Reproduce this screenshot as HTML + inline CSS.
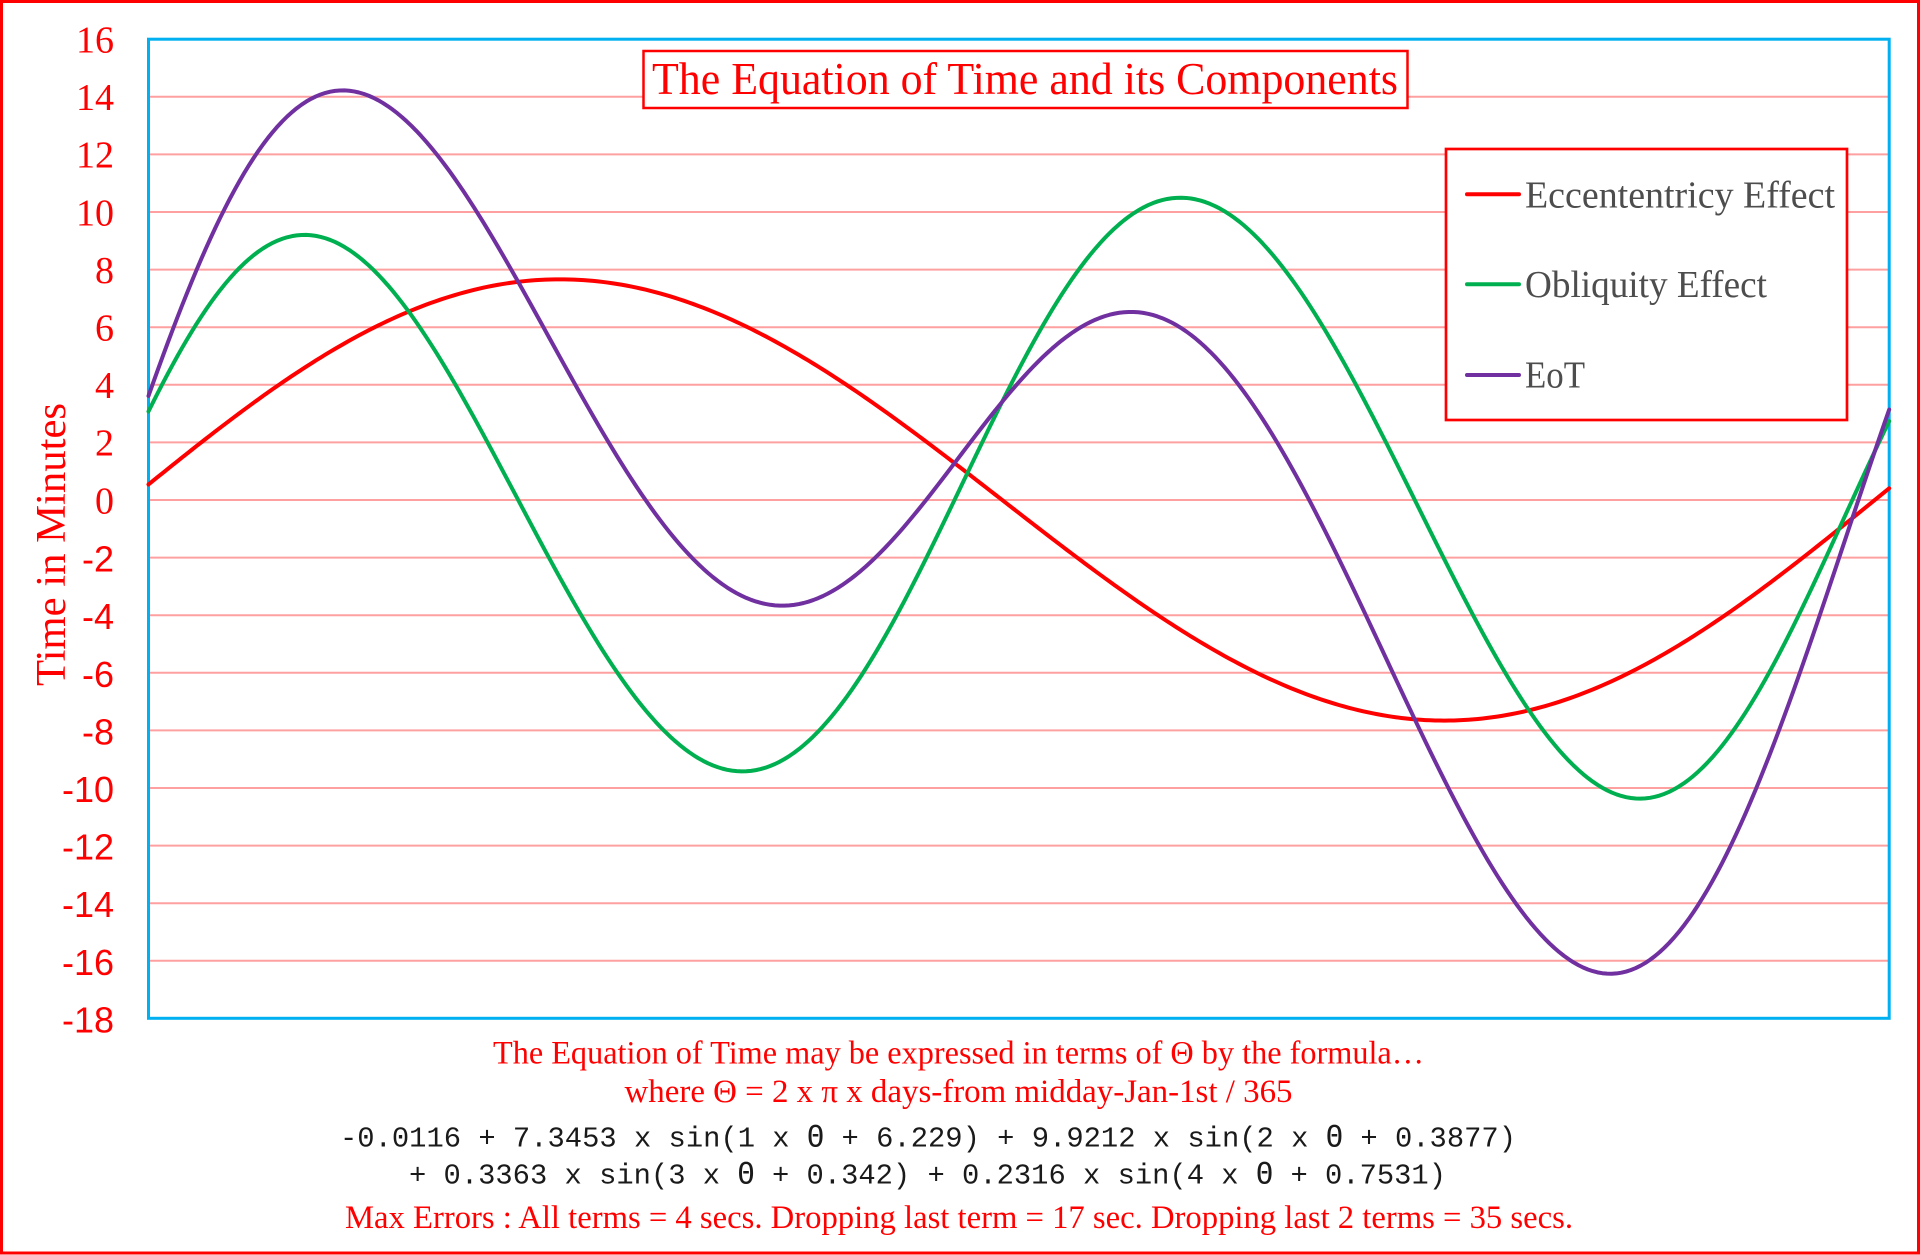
<!DOCTYPE html>
<html>
<head>
<meta charset="utf-8">
<style>
  html,body{margin:0;padding:0;background:#fff;}
  svg{display:block;}
  .serif{font-family:"Liberation Serif","DejaVu Serif",serif;}
  .sans{font-family:"Liberation Sans","DejaVu Sans",sans-serif;}
  .mono{font-family:"Liberation Mono","DejaVu Sans Mono",monospace;}
  .th{font-family:"DejaVu Sans Mono","Liberation Mono",monospace;}
</style>
</head>
<body>
<svg id="chart" width="1920" height="1255" viewBox="0 0 1920 1255" xmlns="http://www.w3.org/2000/svg">
  <rect x="0" y="0" width="1920" height="1255" fill="#ffffff"/>
  <!-- outer border -->
  <rect x="1.5" y="1.5" width="1917" height="1251.5" fill="none" stroke="#ff0000" stroke-width="3"/>

  <!-- gridlines -->
  <g stroke="#ffa0a0" stroke-width="2">
    <line x1="150" y1="96.8" x2="1888" y2="96.8"/>
    <line x1="150" y1="154.4" x2="1888" y2="154.4"/>
    <line x1="150" y1="212.0" x2="1888" y2="212.0"/>
    <line x1="150" y1="269.6" x2="1888" y2="269.6"/>
    <line x1="150" y1="327.2" x2="1888" y2="327.2"/>
    <line x1="150" y1="384.8" x2="1888" y2="384.8"/>
    <line x1="150" y1="442.4" x2="1888" y2="442.4"/>
    <line x1="150" y1="500.0" x2="1888" y2="500.0"/>
    <line x1="150" y1="557.6" x2="1888" y2="557.6"/>
    <line x1="150" y1="615.2" x2="1888" y2="615.2"/>
    <line x1="150" y1="672.8" x2="1888" y2="672.8"/>
    <line x1="150" y1="730.4" x2="1888" y2="730.4"/>
    <line x1="150" y1="788.0" x2="1888" y2="788.0"/>
    <line x1="150" y1="845.6" x2="1888" y2="845.6"/>
    <line x1="150" y1="903.2" x2="1888" y2="903.2"/>
    <line x1="150" y1="960.8" x2="1888" y2="960.8"/>
  </g>

  <!-- plot area border -->
  <rect x="148.5" y="39.2" width="1740.7" height="979.1" fill="none" stroke="#00b0f0" stroke-width="3"/>

  <!-- y tick labels: positive (serif) -->
  <g class="serif" fill="#ff0000" font-size="38" text-anchor="end">
    <text x="114" y="52.5">16</text>
    <text x="114" y="110.1">14</text>
    <text x="114" y="167.7">12</text>
    <text x="114" y="225.3">10</text>
    <text x="114" y="282.9">8</text>
    <text x="114" y="340.5">6</text>
    <text x="114" y="398.1">4</text>
    <text x="114" y="455.7">2</text>
    <text x="114" y="513.3">0</text>
  </g>
  <!-- y tick labels: negative (sans) -->
  <g class="sans" fill="#ff0000" font-size="36" text-anchor="end">
    <text x="114" y="571.6">-2</text>
    <text x="114" y="629.2">-4</text>
    <text x="114" y="686.8">-6</text>
    <text x="114" y="744.4">-8</text>
    <text x="114" y="802.0">-10</text>
    <text x="114" y="859.6">-12</text>
    <text x="114" y="917.2">-14</text>
    <text x="114" y="974.8">-16</text>
    <text x="114" y="1032.4">-18</text>
  </g>

  <!-- y axis title -->
  <text class="serif" fill="#ff0000" font-size="42" transform="translate(65,686) rotate(-90)" x="0" y="0" textLength="283" lengthAdjust="spacingAndGlyphs">Time in Minutes</text>

  <!-- series -->
  <path id="pRed" d="" fill="none" stroke="#ff0000" stroke-width="4" stroke-linejoin="round" stroke-linecap="round"/>
  <path id="pGreen" d="" fill="none" stroke="#00b050" stroke-width="4" stroke-linejoin="round" stroke-linecap="round"/>
  <path id="pPurple" d="" fill="none" stroke="#7030a0" stroke-width="4" stroke-linejoin="round" stroke-linecap="round"/>

  <!-- title -->
  <rect x="643.5" y="51" width="764" height="57" fill="#ffffff" stroke="#ff0000" stroke-width="2.5"/>
  <text class="serif" fill="#ff0000" font-size="45" x="652" y="94" textLength="746" lengthAdjust="spacingAndGlyphs">The Equation of Time and its Components</text>

  <!-- legend -->
  <rect x="1446" y="149" width="401" height="271" fill="#ffffff" stroke="#ff0000" stroke-width="2.7"/>
  <line x1="1467" y1="194.3" x2="1519" y2="194.3" stroke="#ff0000" stroke-width="4" stroke-linecap="round"/>
  <line x1="1467" y1="284.3" x2="1519" y2="284.3" stroke="#00b050" stroke-width="4" stroke-linecap="round"/>
  <line x1="1467" y1="375" x2="1519" y2="375" stroke="#7030a0" stroke-width="4" stroke-linecap="round"/>
  <g class="serif" fill="#4d4d4d" font-size="38">
    <text x="1525" y="207.5" textLength="310" lengthAdjust="spacingAndGlyphs">Eccententricy Effect</text>
    <text x="1525" y="297" textLength="242" lengthAdjust="spacingAndGlyphs">Obliquity Effect</text>
    <text x="1525" y="387.5" textLength="60" lengthAdjust="spacingAndGlyphs">EoT</text>
  </g>

  <!-- bottom text -->
  <g class="serif" fill="#ff0000" font-size="33">
    <text x="493" y="1063.5" textLength="931" lengthAdjust="spacingAndGlyphs">The Equation of Time may be expressed in terms of Θ by the formula…</text>
    <text x="624.5" y="1102" textLength="668" lengthAdjust="spacingAndGlyphs">where Θ = 2 x π x days-from midday-Jan-1st / 365</text>
    <text x="345" y="1228" textLength="1228" lengthAdjust="spacingAndGlyphs">Max Errors : All terms = 4 secs. Dropping last term = 17 sec. Dropping last 2 terms = 35 secs.</text>
  </g>
  <g class="mono" fill="#1a1a1a" font-size="29">
    <text x="340" y="1146.7" textLength="1176" lengthAdjust="spacingAndGlyphs">-0.0116 + 7.3453 x sin(1 x <tspan class="th">Θ</tspan> + 6.229) + 9.9212 x sin(2 x <tspan class="th">Θ</tspan> + 0.3877)</text>
    <text x="409" y="1183.3" textLength="1037" lengthAdjust="spacingAndGlyphs">+ 0.3363 x sin(3 x <tspan class="th">Θ</tspan> + 0.342) + 0.2316 x sin(4 x <tspan class="th">Θ</tspan> + 0.7531)</text>
  </g>
</svg>
<script>
(function(){
  var x0=148.5, x1=1889.2, y0=39.2, unit=979.1/34;
  function X(d){return x0 + d*(x1-x0)/364;}
  function Y(v){return y0 + (16 - v)*unit;}
  var r=[], g=[], p=[];
  for(var d=0; d<=364; d++){
    var th = 2*Math.PI*d/365;
    var eot = -0.0116 + 7.3453*Math.sin(th+6.229) + 9.9212*Math.sin(2*th+0.3877)
              + 0.3363*Math.sin(3*th+0.342) + 0.2316*Math.sin(4*th+0.7531);
    var m = 2*Math.PI*(d+4)/365;
    var ecc = 7.66*Math.sin(m) + 0.08*Math.sin(2*m);
    var obl = eot - ecc;
    var xs = X(d).toFixed(2);
    r.push((d?'L':'M') + xs + ' ' + Y(ecc).toFixed(2));
    g.push((d?'L':'M') + xs + ' ' + Y(obl).toFixed(2));
    p.push((d?'L':'M') + xs + ' ' + Y(eot).toFixed(2));
  }
  document.getElementById('pRed').setAttribute('d', r.join(''));
  document.getElementById('pGreen').setAttribute('d', g.join(''));
  document.getElementById('pPurple').setAttribute('d', p.join(''));
})();
</script>
</body>
</html>
